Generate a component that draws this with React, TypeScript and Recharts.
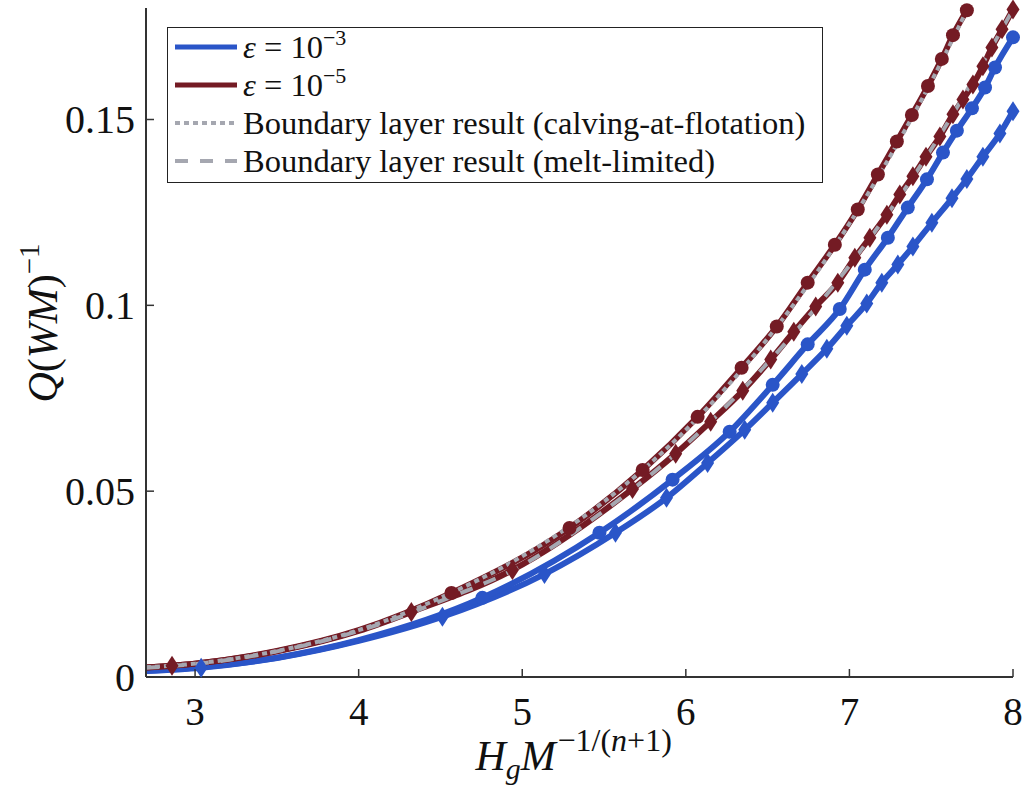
import React from "react";
import { LineChart, Line, XAxis, YAxis, Legend } from "recharts";

const xTicks = [3, 4, 5, 6, 7, 8];
const yTicks = [0, 0.05, 0.1, 0.15];

// eps = 1e-3, calving-at-flotation (circle markers); "lead" = curve before the first marker
const e3CalvLeadX = [2.7, 3.0, 3.5, 4.0];
const e3CalvLeadY = [0.0017, 0.0025, 0.0052, 0.0099];
const e3CalvX = [4.756, 5.472, 5.919, 6.268, 6.531, 6.745, 6.941, 7.094, 7.235, 7.357, 7.474, 7.572, 7.657, 7.749, 7.829, 7.89, 8.0];
const e3CalvY = [0.0213, 0.0388, 0.0531, 0.066, 0.0786, 0.0895, 0.099, 0.1096, 0.1182, 0.1263, 0.1339, 0.1411, 0.147, 0.153, 0.1586, 0.164, 0.1721];

// eps = 1e-3, melt-limited (diamond markers)
const e3MeltLeadX = [2.7, 3.5, 4.0];
const e3MeltLeadY = [0.0016, 0.0051, 0.0097];
const e3MeltX = [3.037, 4.512, 5.136, 5.57, 5.882, 6.133, 6.36, 6.531, 6.709, 6.862, 6.984, 7.106, 7.198, 7.296, 7.388, 7.504, 7.627, 7.718, 7.816, 7.92, 8.0];
const e3MeltY = [0.0025, 0.0162, 0.0277, 0.0388, 0.0482, 0.0576, 0.0665, 0.0738, 0.0815, 0.0883, 0.0945, 0.1005, 0.1061, 0.111, 0.1158, 0.1222, 0.1288, 0.134, 0.14, 0.1462, 0.1522];

// eps = 1e-5, calving-at-flotation (circle markers)
const e5CalvLeadX = [2.7, 3.0, 3.5, 4.0];
const e5CalvLeadY = [0.0026, 0.0036, 0.007, 0.0126];
const e5CalvX = [4.567, 5.289, 5.736, 6.072, 6.341, 6.556, 6.745, 6.911, 7.051, 7.174, 7.29, 7.382, 7.48, 7.565, 7.633, 7.718];
const e5CalvY = [0.0226, 0.0401, 0.0557, 0.07, 0.0832, 0.0943, 0.1061, 0.1163, 0.1258, 0.1352, 0.1441, 0.1512, 0.159, 0.1663, 0.1727, 0.1794];

// eps = 1e-5, melt-limited (diamond markers)
const e5MeltLeadX = [2.7, 3.5, 4.0];
const e5MeltLeadY = [0.0025, 0.0069, 0.0124];
const e5MeltX = [2.859, 4.322, 4.94, 5.674, 5.938, 6.152, 6.348, 6.519, 6.66, 6.794, 6.929, 7.033, 7.125, 7.229, 7.308, 7.388, 7.468, 7.553, 7.633, 7.694, 7.755, 7.816, 7.871, 7.933, 8.0];
const e5MeltY = [0.003, 0.0175, 0.0288, 0.0506, 0.0601, 0.0687, 0.077, 0.0854, 0.0929, 0.0997, 0.1061, 0.1128, 0.1182, 0.1244, 0.1298, 0.1347, 0.14, 0.1454, 0.1514, 0.1554, 0.1594, 0.1643, 0.1694, 0.1743, 0.1796];

// boundary layer results
const blCalvX = [2.7, 3.0, 3.5, 4.0, 4.5, 5.0, 5.5, 6.0, 6.5, 7.0, 7.25, 7.5, 7.718];
const blCalvY = [0.0026, 0.0036, 0.007, 0.0126, 0.0213, 0.0325, 0.0472, 0.0665, 0.0911, 0.122, 0.1402, 0.1602, 0.1794];
const blMeltX = [2.7, 3.0, 3.5, 4.0, 4.5, 5.0, 5.5, 6.0, 6.5, 7.0, 7.5, 8.0];
const blMeltY = [0.0025, 0.0035, 0.0069, 0.0124, 0.0204, 0.0301, 0.0447, 0.0625, 0.0845, 0.1107, 0.142, 0.1796];

const legendLabels = ["-3", "-5", "Boundary layer result (calving-at-flotation)", "Boundary layer result (melt-limited)"];

const BLUE = "#2a55c8";
const RED = "#741b24";
const GRAY = "#a5a7b0";
const AXIS = "#333";
const FONT = '"Liberation Serif", serif';

type Pt = { x: number; y: number; mark: boolean };

function series(leadX: number[], leadY: number[], mx: number[], my: number[]): Pt[] {
  const a = leadX.map((x, i) => ({ x, y: leadY[i], mark: false }));
  const b = mx.map((x, i) => ({ x, y: my[i], mark: true }));
  return [...a, ...b].sort((p, q) => p.x - q.x);
}

const e3Calv = series(e3CalvLeadX, e3CalvLeadY, e3CalvX, e3CalvY);
const e3Melt = series(e3MeltLeadX, e3MeltLeadY, e3MeltX, e3MeltY);
const e5Calv = series(e5CalvLeadX, e5CalvLeadY, e5CalvX, e5CalvY);
const e5Melt = series(e5MeltLeadX, e5MeltLeadY, e5MeltX, e5MeltY);
const blCalv = blCalvX.map((x, i) => ({ x, y: blCalvY[i] }));
const blMelt = blMeltX.map((x, i) => ({ x, y: blMeltY[i] }));

const circleDot = (color: string) => (p: any) => {
  const { cx, cy, payload, index } = p;
  if (!payload?.mark || cx == null) return <g key={`n${index}`} />;
  return <circle key={`c${index}`} cx={cx} cy={cy} r={7} fill={color} />;
};

const diamondDot = (color: string) => (p: any) => {
  const { cx, cy, payload, index } = p;
  if (!payload?.mark || cx == null) return <g key={`n${index}`} />;
  return (
    <path
      key={`d${index}`}
      d={`M${cx},${cy - 10}L${cx + 6.5},${cy}L${cx},${cy + 10}L${cx - 6.5},${cy}Z`}
      fill={color}
    />
  );
};

function LegendBox() {
  const rows = [
    { color: BLUE, dash: undefined, w: 5 },
    { color: RED, dash: undefined, w: 5 },
    { color: GRAY, dash: "5 4", w: 4 },
    { color: GRAY, dash: "13 12", w: 4 },
  ];
  return (
    <div
      style={{
        width: 656,
        height: 156,
        boxSizing: "border-box",
        border: "1.5px solid #222",
        background: "#fff",
        fontFamily: FONT,
        fontSize: 32.5,
        color: "#111",
      }}
    >
      {rows.map((r, i) => (
        <div key={i} style={{ display: "flex", alignItems: "center", height: 38 }}>
          <svg width={62} height={10} style={{ marginLeft: 7, marginRight: 6 }}>
            <line x1={0} y1={5} x2={62} y2={5} stroke={r.color} strokeWidth={r.w} strokeDasharray={r.dash} />
          </svg>
          {i < 2 ? (
            <span style={{ whiteSpace: "nowrap" }}>
              <i>ε</i> = 10
              <span style={{ fontSize: 22, position: "relative", top: -13 }}>
                {legendLabels[i].replace("-", "−")}
              </span>
            </span>
          ) : (
            <span style={{ whiteSpace: "nowrap" }}>{legendLabels[i]}</span>
          )}
        </div>
      ))}
    </div>
  );
}

export default function App() {
  return (
    <div style={{ position: "absolute", left: 0, top: 0, background: "#fff" }}>
      <LineChart width={1026} height={787} margin={{ top: 8, right: 13, left: 0, bottom: 0 }}>
        <XAxis
          type="number"
          dataKey="x"
          domain={[2.7, 8]}
          ticks={xTicks}
          height={110}
          tickSize={-8}
          tickMargin={0}
          axisLine={{ stroke: AXIS, strokeWidth: 2 }}
          tickLine={{ stroke: AXIS, strokeWidth: 1.5 }}
          tick={(p: any) => (
            <text x={p.x} y={p.y + 56} textAnchor="middle" fontFamily={FONT} fontSize={39} fill="#111">
              {p.payload.value}
            </text>
          )}
          label={{
            content: (p: any) => {
              const vb = p.viewBox;
              const x0 = vb.x + vb.width / 2 - 104;
              const base = vb.y + 93;
              return (
                <g>
                  <text x={x0} y={base} fontFamily={FONT} fontSize={42} fill="#111">
                    <tspan fontStyle="italic">H</tspan>
                    <tspan fontStyle="italic" fontSize={30} dy={9}>g</tspan>
                    <tspan fontStyle="italic" dy={-9}>M</tspan>
                  </text>
                  <text x={x0 + 82} y={base - 19} fontFamily={FONT} fontSize={32} fill="#111">
                    <tspan>−1/(</tspan>
                    <tspan fontStyle="italic">n</tspan>
                    <tspan>+1)</tspan>
                  </text>
                </g>
              );
            },
          }}
        />
        <YAxis
          type="number"
          domain={[0, 0.18]}
          ticks={yTicks}
          width={146}
          tickSize={-8}
          tickMargin={0}
          axisLine={{ stroke: AXIS, strokeWidth: 2 }}
          tickLine={{ stroke: AXIS, strokeWidth: 1.5 }}
          tick={(p: any) => (
            <text x={p.x - 19} y={p.y} dominantBaseline="central" textAnchor="end" fontFamily={FONT} fontSize={40} fill="#111">
              {String(p.payload.value)}
            </text>
          )}
          label={{
            content: () => (
              <text transform="translate(57, 323) rotate(-90)" textAnchor="middle" fontFamily={FONT} fontSize={42} fill="#111">
                <tspan fontStyle="italic">Q</tspan>
                <tspan>(</tspan>
                <tspan fontStyle="italic">WM</tspan>
                <tspan>)</tspan>
                <tspan fontSize={29} dy={-18}>−1</tspan>
              </text>
            ),
          }}
        />
        <Legend
          layout="vertical"
          align="center"
          verticalAlign="middle"
          wrapperStyle={{ left: 167, top: 27, width: 656, height: 156 }}
          content={() => <LegendBox />}
        />
        <Line data={e3Melt} dataKey="y" type="monotone" stroke={BLUE} strokeWidth={6} dot={diamondDot(BLUE)} activeDot={false} isAnimationActive={false} />
        <Line data={e3Calv} dataKey="y" type="monotone" stroke={BLUE} strokeWidth={6} dot={circleDot(BLUE)} activeDot={false} isAnimationActive={false} />
        <Line data={e5Melt} dataKey="y" type="monotone" stroke={RED} strokeWidth={6} dot={diamondDot(RED)} activeDot={false} isAnimationActive={false} />
        <Line data={e5Calv} dataKey="y" type="monotone" stroke={RED} strokeWidth={6} dot={circleDot(RED)} activeDot={false} isAnimationActive={false} />
        <Line data={blMelt} dataKey="y" type="monotone" stroke={GRAY} strokeWidth={4} strokeDasharray="13 12" dot={false} activeDot={false} isAnimationActive={false} />
        <Line data={blCalv} dataKey="y" type="monotone" stroke={GRAY} strokeWidth={4} strokeDasharray="5 4" dot={false} activeDot={false} isAnimationActive={false} />
      </LineChart>
    </div>
  );
}
